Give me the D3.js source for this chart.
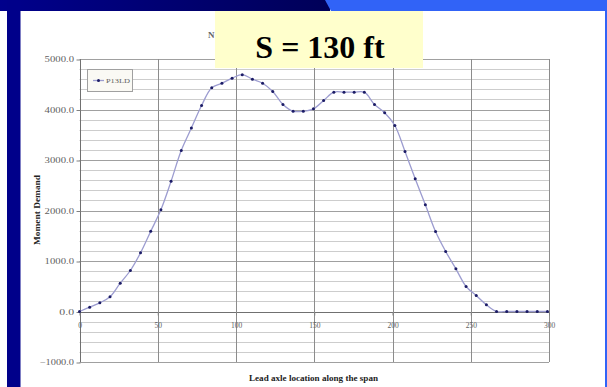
<!DOCTYPE html>
<html>
<head>
<meta charset="utf-8">
<script src="https://cdn.jsdelivr.net/npm/d3@7"></script>
<style>
  html, body { margin: 0; padding: 0; background: #fff; }
  svg { display: block; }
</style>
</head>
<body>
<svg id="chart" width="607" height="387"></svg>
<script>
// Lead axle position along the span (ft)
const axlePositions = [
  0, 6.5, 13, 19.5, 26, 32.5, 39, 45.5, 52, 58.5,
  65, 71.5, 78, 84.5, 91, 97.5, 104, 110.5, 117, 123.5,
  130, 136.5, 143, 149.5, 156, 162.5, 169, 175.5, 182, 188.5,
  195, 201.5, 208, 214.5, 221, 227.5, 234, 240.5, 247, 253.5,
  260, 266.5, 273, 279.5, 286, 292.5, 299
];
// P13LD moment demand at each position
const momentP13LD = [
  0, 85, 172, 290, 560, 812, 1162, 1587, 2013, 2577,
  3188, 3633, 4079, 4430, 4520, 4620, 4690, 4600, 4520, 4356,
  4099, 3966, 3966, 4014, 4178, 4343, 4343, 4343, 4343, 4099,
  3937, 3683, 3168, 2630, 2112, 1584, 1188, 845, 495, 317,
  133, 0, 0, 0, 0, 0, 0
];
const seriesName = "P13LD";
const xTicks = [0, 50, 100, 150, 200, 250, 300];
const yTicks = [-1000, 0, 1000, 2000, 3000, 4000, 5000];
const yMinorTicks = d3.range(-1000, 5001, 200);
const titleText = "N";
const spanLabel = "S = 130 ft";
const xTitle = "Lead axle location along the span";
const yTitle = "Moment Demand";

const svg = d3.select("#chart");
const serif = "'Liberation Serif', 'DejaVu Serif', serif";

// slide frame
const defs = svg.append("defs");
const grad = defs.append("linearGradient").attr("id", "band").attr("x1", "0").attr("x2", "1");
grad.append("stop").attr("offset", "0").attr("stop-color", "#00008c");
grad.append("stop").attr("offset", "1").attr("stop-color", "#000058");

svg.append("rect").attr("x", 0).attr("y", 0).attr("width", 330).attr("height", 11).attr("fill", "url(#band)");
svg.append("polygon").attr("points", "325,0 607,0 607,11 331,11").attr("fill", "#3163f7");
svg.append("rect").attr("x", 7).attr("y", 0).attr("width", 13.5).attr("height", 387).attr("fill", "#00008a");
svg.append("rect").attr("x", 605).attr("y", 0).attr("width", 2).attr("height", 387).attr("fill", "#3163f7");

// scales
const x = d3.scaleLinear().domain([0, 300]).range([79.5, 549]);
const y = d3.scaleLinear().domain([-1000, 5000]).range([362, 59]);

const g = svg.append("g");

// minor horizontal grid
g.append("g").selectAll("line").data(yMinorTicks.filter(v => v % 1000 !== 0)).join("line")
  .attr("x1", x(0)).attr("x2", x(300))
  .attr("y1", d => Math.round(y(d)) + 0.5).attr("y2", d => Math.round(y(d)) + 0.5)
  .attr("stroke", "#cdcdcd").attr("stroke-width", 1);

// major horizontal grid
g.append("g").selectAll("line").data(yTicks).join("line")
  .attr("x1", x(0)).attr("x2", x(300))
  .attr("y1", d => Math.round(y(d)) + 0.5).attr("y2", d => Math.round(y(d)) + 0.5)
  .attr("stroke", d => d === 0 ? "#707070" : "#a0a0a0").attr("stroke-width", 1);

// vertical grid
g.append("g").selectAll("line").data(xTicks).join("line")
  .attr("x1", d => Math.round(x(d)) + 0.5).attr("x2", d => Math.round(x(d)) + 0.5)
  .attr("y1", y(5000)).attr("y2", y(-1000))
  .attr("stroke", d => d === 0 ? "#707070" : "#8c8c8c").attr("stroke-width", 1);

// y axis ticks and labels
const yAxis = d3.axisLeft(y).tickValues(yTicks).tickSize(4).tickFormat(d3.format(".1f"));
const ya = g.append("g").attr("transform", `translate(${Math.round(x(0)) + 0.5},0.5)`).call(yAxis);
ya.select(".domain").remove();
ya.selectAll(".tick line").attr("stroke", "#808080");
ya.selectAll(".tick text")
  .attr("font-family", serif).attr("font-size", 7.5).attr("fill", "#606060")
  .attr("x", -6.5)
  .attr("textLength", d => (String(d3.format(".1f")(d)).length) * 4.9)
  .attr("lengthAdjust", "spacingAndGlyphs");

// x axis along the zero line
const xAxis = d3.axisBottom(x).tickValues(xTicks).tickSize(3).tickFormat(d3.format("d"));
const xa = g.append("g").attr("transform", `translate(0,${Math.round(y(0)) + 0.5})`).call(xAxis);
xa.select(".domain").remove();
xa.selectAll(".tick line").attr("stroke", "#808080");
xa.selectAll(".tick text")
  .attr("font-family", serif).attr("font-size", 7.5).attr("fill", "#606060")
  .attr("dy", "0.5em").attr("y", 12);

// series line
const pts = axlePositions.map((d, i) => [d, momentP13LD[i]]);
const line = d3.line().x(d => x(d[0])).y(d => y(d[1])).curve(d3.curveCatmullRom.alpha(0.5));
g.append("path").datum(pts).attr("d", line)
  .attr("fill", "none").attr("stroke", "#9c9cd0").attr("stroke-width", 1.3);

g.append("g").selectAll("circle").data(pts).join("circle")
  .attr("cx", d => x(d[0])).attr("cy", d => y(d[1])).attr("r", 1.5)
  .attr("fill", "#1c1c66");

// legend
const lg = g.append("g");
lg.append("rect").attr("x", 87.5).attr("y", 69.5).attr("width", 45).attr("height", 22)
  .attr("fill", "#faf9f4").attr("stroke", "#a0a0a0");
lg.append("line").attr("x1", 93).attr("x2", 104).attr("y1", 80.5).attr("y2", 80.5)
  .attr("stroke", "#9c9cd0").attr("stroke-width", 1.3);
lg.append("circle").attr("cx", 98.5).attr("cy", 80.5).attr("r", 1.5).attr("fill", "#1c1c66");
lg.append("text").attr("x", 106).attr("y", 83).text(seriesName)
  .attr("font-family", serif).attr("font-size", 7).attr("fill", "#606060")
  .attr("textLength", 24).attr("lengthAdjust", "spacingAndGlyphs");

// axis titles
svg.append("text").attr("transform", "translate(40,210) rotate(-90)")
  .attr("text-anchor", "middle").text(yTitle)
  .attr("font-family", serif).attr("font-size", 8.5).attr("font-weight", "bold").attr("fill", "#222")
  .attr("textLength", 70).attr("lengthAdjust", "spacingAndGlyphs");

svg.append("text").attr("x", 313.5).attr("y", 381)
  .attr("text-anchor", "middle").text(xTitle)
  .attr("font-family", serif).attr("font-size", 8.5).attr("font-weight", "bold").attr("fill", "#222")
  .attr("textLength", 129).attr("lengthAdjust", "spacingAndGlyphs");

// chart title (partly covered by the span label)
svg.append("text").attr("x", 208).attr("y", 37.5).text(titleText)
  .attr("font-family", serif).attr("font-size", 9).attr("font-weight", "bold").attr("fill", "#666");

// span label
svg.append("rect").attr("x", 215).attr("y", 11).attr("width", 208).attr("height", 57).attr("fill", "#ffffcc");
svg.append("text").attr("x", 320).attr("y", 58).attr("text-anchor", "middle").text(spanLabel)
  .attr("font-family", serif).attr("font-size", 32).attr("font-weight", "bold").attr("fill", "#000");
</script>
</body>
</html>
